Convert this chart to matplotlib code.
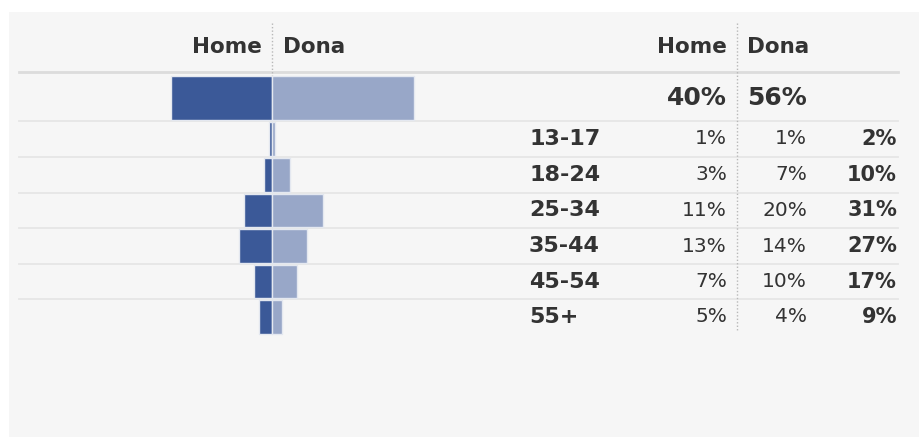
import matplotlib.pyplot as plt
from matplotlib.patches import Rectangle

# data
ages = ['13-17', '18-24', '25-34', '35-44', '45-54', '55+']
home = [1, 3, 11, 13, 7, 5]
dona = [1, 7, 20, 14, 10, 4]
totals = [2, 10, 31, 27, 17, 9]
home_total = 40
dona_total = 56
col_names = ['Home', 'Dona']

HOME_C = '#3b5998'
DONA_C = '#98a7c8'
TXT = '#333333'
W, H = 919, 437
CX = 272          # centre of the pyramid, px
PX_PER_PCT = 2.53

# row layout (px from top)
row_edges = [72, 121, 157, 193, 228, 264, 299, 335]

fig = plt.figure(figsize=(W / 100, H / 100), dpi=100, facecolor='white')

# layout axes in pixels
lay = fig.add_axes([0, 0, 1, 1])
lay.set_xlim(0, W)
lay.set_ylim(H, 0)
lay.axis('off')
lay.add_patch(Rectangle((9, 12), W, H, facecolor='#f6f6f6', edgecolor='none', zorder=0))

# bar axes: x in percent, y in pixels
bx = fig.add_axes([0, 0, 1, 1])
bx.set_xlim(-CX / PX_PER_PCT, (W - CX) / PX_PER_PCT)
bx.set_ylim(H, 0)
bx.axis('off')

# separators
lay.plot([19, 898], [row_edges[0]] * 2, color='#dcdcdc', lw=2, zorder=1)
for y in row_edges[1:-1]:
    lay.plot([19, 898], [y, y], color='#e6e6e6', lw=1.3, zorder=1)

# dotted dividers
lay.plot([CX, CX], [23, 76], color='#b8b8b8', lw=1, ls=(0, (1, 1.5)), zorder=1)
lay.plot([737, 737], [23, 330], color='#b8b8b8', lw=1, ls=(0, (1, 1.5)), zorder=1)

# bars
centers = [(a + b) / 2 for a, b in zip(row_edges[:-1], row_edges[1:])]
heights = [b - a - 2 for a, b in zip(row_edges[:-1], row_edges[1:])]
centers[0] = 98
heights[0] = 44
hv = [home_total] + home
dv = [dona_total] + dona
bx.barh(centers, [-v for v in hv], height=heights, color=HOME_C,
        edgecolor='#e4e8f0', lw=1, zorder=3)
bx.barh(centers, dv, height=heights, color=DONA_C,
        edgecolor='#e4e8f0', lw=1, zorder=3)

# headers
for xh, xd in [(262, 283), (727, 747)]:
    lay.text(xh, 47, col_names[0], ha='right', va='center', fontsize=15.5,
             fontweight='bold', color=TXT)
    lay.text(xd, 47, col_names[1], ha='left', va='center', fontsize=15.5,
             fontweight='bold', color=TXT)

# total row
lay.text(727, centers[0], f'{home_total}%', ha='right', va='center',
         fontsize=18, fontweight='bold', color=TXT)
lay.text(747, centers[0], f'{dona_total}%', ha='left', va='center',
         fontsize=18, fontweight='bold', color=TXT)

# age rows
for i, age in enumerate(ages):
    y = centers[i + 1]
    lay.text(529, y, age, ha='left', va='center', fontsize=16,
             fontweight='bold', color=TXT)
    lay.text(727, y, f'{home[i]}%', ha='right', va='center', fontsize=14.5, color=TXT)
    lay.text(807, y, f'{dona[i]}%', ha='right', va='center', fontsize=14.5, color=TXT)
    lay.text(897, y, f'{totals[i]}%', ha='right', va='center', fontsize=15,
             fontweight='bold', color=TXT)

fig.savefig('out.png', dpi=100, facecolor='white')
